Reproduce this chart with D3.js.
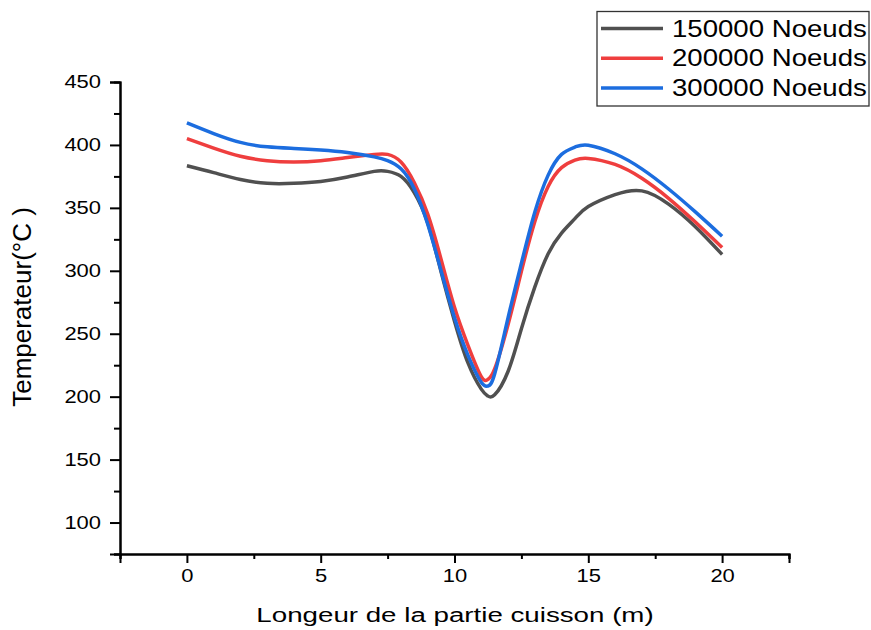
<!DOCTYPE html>
<html>
<head>
<meta charset="utf-8">
<script src="https://cdn.jsdelivr.net/npm/d3@7"></script>
<style>
  html, body { margin: 0; padding: 0; background: #fff; }
  svg { display: block; font-family: "Liberation Sans", Arial, sans-serif; }
</style>
</head>
<body>
<svg id="chart" width="871" height="630"></svg>
<script>
// Position along the cooking section (m)
const positions = [0, 1, 2, 3, 4, 5, 6, 7, 7.5, 8, 8.5, 9, 9.5, 10, 10.5, 11, 11.25, 11.5, 12, 12.5, 13, 13.5, 14, 14.5, 15, 16, 17, 18, 19, 20];

// Temperature (°C) for each mesh size
const temp150k = [383.5, 378, 372.5, 369.5, 369.5, 371, 374.5, 379, 379, 375, 362, 338, 299, 260, 227, 206, 200.5, 201.5, 220, 254, 287, 313.5, 330, 341.5, 351, 360.5, 363.5, 353, 335, 313];
const temp200k = [405, 397.5, 391, 387.5, 386.5, 387.5, 390, 392.5, 392.5, 386.5, 370, 345, 309, 271, 241, 216, 213.8, 222, 257, 299.5, 339, 367, 382, 388, 389.3, 384.5, 373.5, 357.6, 338.7, 318.5];
const temp300k = [417.5, 409, 402, 398.5, 397.2, 396, 394, 390.5, 387.5, 381, 365, 337, 300, 262.8, 233, 211.5, 208.5, 218, 262.5, 306, 346.5, 376, 392.5, 398.3, 399.8, 393, 381, 365, 346.8, 327.5];

const seriesNames = ["150000 Noeuds", "200000 Noeuds", "300000 Noeuds"];
const seriesColors = ["#505050", "#ef3e3e", "#1c6ddf"];

const xTicks = [0, 5, 10, 15, 20];
const yTicks = [100, 150, 200, 250, 300, 350, 400, 450];

const series = [temp150k, temp200k, temp300k].map((vals, i) => ({
  name: seriesNames[i],
  color: seriesColors[i],
  points: positions.map((p, j) => [p, vals[j]])
}));

const svg = d3.select("#chart");

const x = d3.scaleLinear().domain([-2.5, 22.5]).range([120, 789]);
const y = d3.scaleLinear().domain([75, 450]).range([554, 82]);

// Labels are drawn slightly widened horizontally
const stretch = 1.22;

const xAxis = d3.axisBottom(x).tickValues(xTicks).tickSize(9).tickPadding(6).tickFormat(d3.format("d"));
const xMinor = d3.axisBottom(x).tickValues(d3.range(-2.5, 22.6, 2.5).filter(v => !xTicks.includes(v))).tickSize(5).tickFormat("");
const yAxis = d3.axisLeft(y).tickValues(yTicks).tickSize(10).tickPadding(9).tickFormat(d3.format("d"));
const yMinor = d3.axisLeft(y).tickValues(d3.range(75, 451, 25).filter(v => !yTicks.includes(v))).tickSize(6).tickFormat("");

function styleAxis(g) {
  g.select(".domain").attr("stroke", "#000").attr("stroke-width", 2);
  g.selectAll(".tick line").attr("stroke", "#000").attr("stroke-width", 2);
  g.selectAll(".tick text").attr("fill", "#000").style("font-size", "18px");
}

svg.append("g").attr("transform", "translate(0,554)").call(xMinor).call(styleAxis);
svg.append("g").attr("transform", "translate(0,554)").call(xAxis).call(styleAxis)
  .selectAll(".tick text").attr("transform", `scale(${stretch},1)`);
svg.append("g").attr("transform", "translate(120,0)").call(yMinor).call(styleAxis);
svg.append("g").attr("transform", "translate(120,0)").call(yAxis).call(styleAxis)
  .selectAll(".tick text").attr("x", null).attr("transform", `translate(-19,0) scale(${stretch},1)`);

// Axis titles
svg.append("text")
  .attr("transform", `translate(455,622) scale(1.32,1)`)
  .attr("text-anchor", "middle")
  .style("font-size", "21px")
  .text("Longeur de la partie cuisson (m)");

svg.append("text")
  .attr("transform", "translate(31,307) rotate(-90)")
  .attr("text-anchor", "middle")
  .style("font-size", "26px")
  .text("Temperateur(°C )");

// Curves
const line = d3.line()
  .x(d => x(d[0]))
  .y(d => y(d[1]))
  .curve(d3.curveNatural);

svg.append("g").selectAll("path")
  .data(series)
  .join("path")
  .attr("d", d => line(d.points))
  .attr("fill", "none")
  .attr("stroke", d => d.color)
  .attr("stroke-width", 3.5)
  .attr("stroke-linejoin", "round");

// Legend
const legend = svg.append("g");
legend.append("rect")
  .attr("x", 597).attr("y", 11.5)
  .attr("width", 272).attr("height", 94.5)
  .attr("fill", "#fff")
  .attr("stroke", "#333").attr("stroke-width", 1.3);

const items = legend.selectAll("g.item")
  .data(series)
  .join("g")
  .attr("class", "item")
  .attr("transform", (d, i) => `translate(0,${28.5 + i * 29.8})`);

items.append("line")
  .attr("x1", 601).attr("x2", 663)
  .attr("stroke", d => d.color)
  .attr("stroke-width", 3.5);

items.append("text")
  .attr("transform", `translate(672,8) scale(1.2,1)`)
  .style("font-size", "23px")
  .text(d => d.name);
</script>
</body>
</html>
